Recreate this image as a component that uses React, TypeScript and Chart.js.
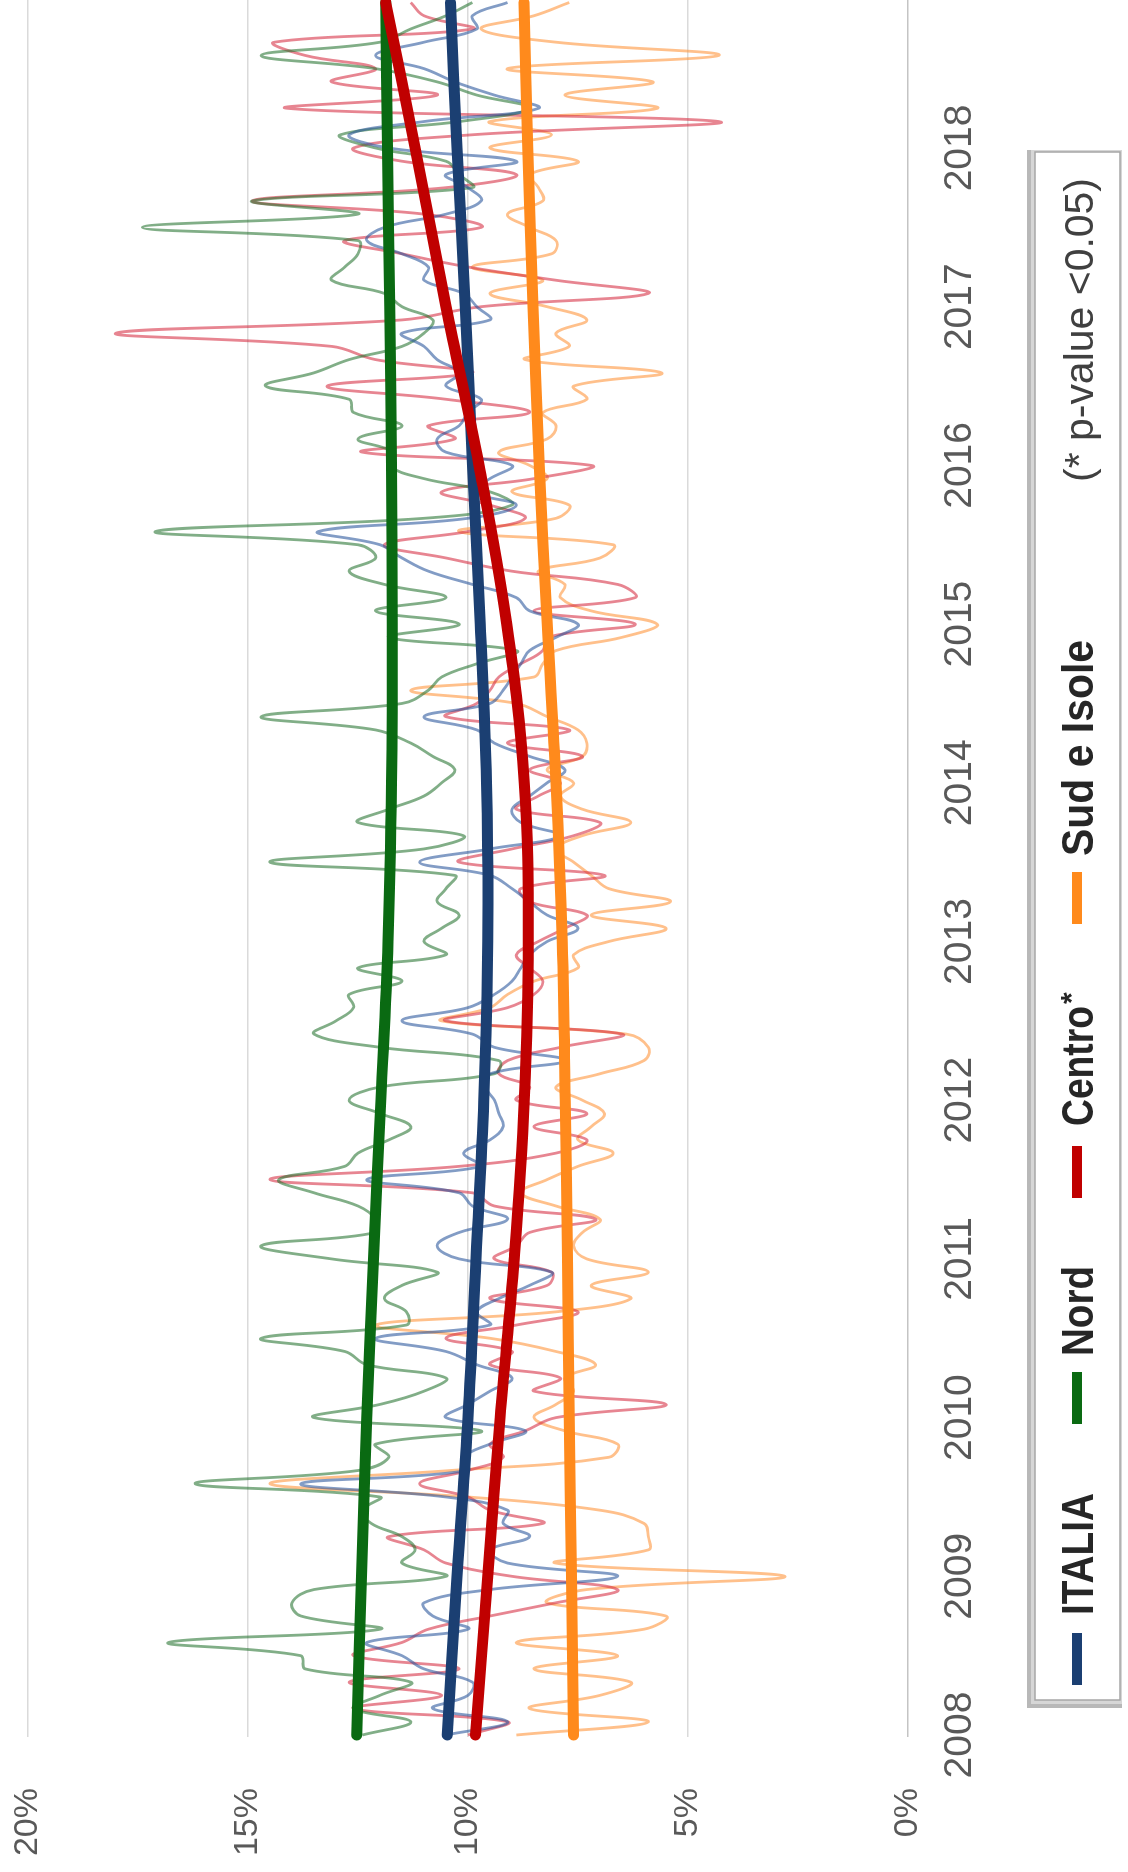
import React, { useEffect, useRef } from "react";
import { Chart, registerables } from "chart.js";

Chart.register(...registerables);

// ---------- DATA ----------
const YEAR_LABELS = ["2008", "2009", "2010", "2011", "2012", "2013", "2014", "2015", "2016", "2017", "2018"];
const Y_TICKS = [0, 5, 10, 15, 20];

// monthly values, Jan 2008 .. Dec 2018 (percent)
const ITALIA = [
  10.5, 9.1, 10.8, 10.0, 9.9, 11.0, 11.5, 12.3, 10.0, 10.8, 11.0, 9.5, 6.6, 9.1, 9.5, 8.6, 9.2, 9.1, 10.5, 13.8, 10.0, 10.1,
  9.5, 8.7, 10.5, 10.0, 9.5, 9.0, 9.8, 10.5, 12.1, 9.5, 9.8, 9.3, 8.6, 8.1, 10.2, 10.7, 10.2, 9.1, 9.9, 10.2, 12.3, 9.7,
  10.1, 9.5, 9.2, 9.3, 9.4, 9.6, 9.5, 7.8, 9.4, 9.9, 11.5, 10.0, 9.4, 9.0, 8.8, 8.6, 8.2, 7.5, 8.2, 8.6, 9.0, 9.5,
  11.1, 9.5, 7.9, 8.8, 9.0, 8.6, 8.2, 7.8, 8.6, 9.4, 9.8, 11.0, 9.5, 9.2, 9.0, 8.8, 8.6, 8.0, 7.5, 8.6, 8.9,
  9.9, 10.9, 11.5, 12.0, 13.4, 10.0, 8.9, 9.9, 9.5, 9.0, 10.5, 10.7, 10.2, 10.0, 9.7, 10.5, 10.2, 10.7, 11.0, 11.5, 9.5, 9.8, 10.1,
  11.0, 10.9, 11.5, 12.3, 11.9, 10.5, 9.7, 10.0, 10.5, 8.9, 11.8, 12.7, 11.0, 8.4, 9.4, 10.3, 11.0, 12.1, 11.0, 9.8, 9.9, 9.1,
];
const NORD = [
  12.4, 11.3, 12.6, 12.0, 11.3, 13.7, 13.8, 16.8, 12.0, 13.8, 14.0, 13.5, 10.5, 11.5, 11.2, 11.5, 12.2, 12.4, 12.0, 16.2, 12.5, 11.8,
  12.1, 9.7, 13.5, 12.0, 11.0, 10.5, 12.3, 12.8, 14.7, 11.4, 11.4, 11.9, 11.5, 10.7, 13.1, 14.7, 12.1, 12.1, 12.5, 13.5, 14.3, 12.8,
  12.5, 11.8, 11.3, 12.0, 12.7, 12.0, 9.4, 9.3, 12.0, 13.5, 13.0, 12.6, 12.7, 11.5, 12.5, 10.5, 11.0, 10.6, 10.2, 10.7, 10.5, 10.3,
  14.5, 11.0, 10.1, 12.5, 11.8, 11.0, 10.6, 10.3, 10.8, 11.3, 12.1, 14.7, 11.5, 10.9, 10.6, 9.8, 8.9, 11.8, 10.2, 12.1, 10.5,
  11.9, 12.7, 12.1, 12.5, 17.1, 11.0, 9.0, 9.5, 11.0, 11.8, 11.7, 12.5, 11.5, 12.6, 12.7, 14.6, 13.5, 12.7, 11.5, 11.0, 10.8, 11.5, 11.9,
  13.1, 12.8, 12.5, 12.5, 17.4, 12.5, 14.9, 9.9, 10.2, 10.5, 12.1, 12.9, 10.2, 8.6, 9.8, 10.7, 12.1, 14.7, 12.0, 11.3, 10.5, 9.9,
];
const CENTRO = [
  10.0, 9.1, 12.6, 10.6, 12.7, 10.2, 12.6, 11.5, 10.9, 9.5, 8.0, 6.6, 9.0, 10.5, 11.0, 11.8, 8.3, 9.5, 10.0, 11.1, 10.0, 9.2,
  9.5, 8.7, 8.0, 5.5, 8.5, 7.9, 9.5, 9.0, 10.5, 8.9, 7.5, 9.5, 8.2, 8.1, 9.4, 8.9, 8.6, 7.1, 9.4, 9.9, 14.5, 10.2,
  8.0, 7.3, 8.5, 7.3, 8.9, 8.6, 9.3, 9.1, 7.9, 6.5, 10.5, 9.1, 8.5, 8.3, 8.6, 8.9, 8.4, 7.8, 7.3, 8.6, 8.8, 6.9,
  10.2, 9.0, 7.6, 7.0, 8.9, 8.4, 7.9, 8.6, 7.4, 9.1, 7.7, 10.5, 9.8, 9.5, 9.3, 8.8, 8.3, 8.2, 6.2, 8.5, 6.2, 6.6,
  9.0, 10.5, 11.9, 10.0, 8.7, 9.5, 10.6, 8.5, 7.2, 12.4, 10.3, 10.9, 8.6, 10.5, 13.2, 9.9, 12.1, 13.1, 18.0, 11.5, 9.7, 5.9,
  8.0, 10.0, 11.5, 12.8, 9.7, 11.0, 14.9, 10.5, 8.9, 11.5, 12.6, 9.9, 4.3, 14.1, 10.7, 13.1, 12.1, 13.7, 14.4, 9.9, 11.0, 11.3,
];
const SUD = [
  8.9, 5.9, 8.6, 7.0, 6.3, 8.5, 6.6, 8.9, 6.0, 5.5, 8.2, 7.3, 2.8, 8.0, 5.9, 5.9, 6.0, 7.0, 10.0, 14.5, 10.4, 6.8,
  6.6, 7.8, 8.5, 8.0, 7.6, 7.8, 7.1, 8.0, 9.5, 12.1, 8.0, 6.3, 7.2, 5.9, 7.3, 7.6, 7.4, 7.0, 8.0, 8.8, 8.2, 7.5,
  6.7, 7.5, 7.2, 6.9, 7.4, 8.0, 7.0, 6.0, 5.9, 6.4, 10.6, 9.5, 9.1, 8.5, 7.5, 7.6, 6.8, 5.5, 7.2, 5.4, 6.8, 7.2,
  7.6, 8.0, 7.4, 6.3, 7.4, 7.9, 7.6, 8.2, 7.4, 7.3, 7.5, 8.2, 8.9, 11.3, 8.5, 8.3, 8.0, 6.5, 5.7, 7.2, 7.9,
  7.8, 8.4, 7.0, 6.7, 10.2, 8.0, 7.7, 9.0, 8.2, 8.6, 9.3, 8.2, 8.0, 8.3, 7.3, 7.6, 5.6, 8.7, 7.7, 8.0, 7.3, 8.2, 9.5,
  8.3, 9.9, 8.1, 8.0, 8.6, 9.1, 8.3, 8.4, 8.6, 7.5, 9.5, 8.1, 9.5, 5.7, 7.8, 5.8, 9.1, 4.3, 8.0, 9.7, 8.5, 7.7,
];

// trend lines (month index -> percent)
const TREND_MONTHS = [0, 12, 24, 36, 48, 60, 72, 84, 96, 108, 120, 131];
const TREND_ITALIA = [10.47, 10.25, 10.0, 9.82, 9.64, 9.55, 9.58, 9.72, 9.9, 10.06, 10.25, 10.4];
const TREND_NORD = [12.53, 12.42, 12.3, 12.15, 11.98, 11.82, 11.74, 11.72, 11.74, 11.78, 11.83, 11.87];
const TREND_CENTRO = [9.83, 9.55, 9.27, 8.95, 8.72, 8.63, 8.72, 9.12, 9.75, 10.5, 11.2, 11.87];
const TREND_SUD = [7.6, 7.65, 7.7, 7.74, 7.79, 7.86, 8.0, 8.2, 8.38, 8.52, 8.64, 8.73];

const LEGEND_LABELS = ["ITALIA", "Nord", "Centro", "Sud e Isole"];
const LEGEND_STARS = ["", "", "*", ""];
const NOTE = "(* p-value <0.05)";

// ---------- STYLE ----------
const THICK_COLORS = ["#1b3f72", "#0a6a12", "#c00000", "#ff8a1c"];
const THIN_COLORS = [
  "rgba(40, 84, 155, 0.58)",
  "rgba(38, 115, 48, 0.58)",
  "rgba(214, 45, 66, 0.58)",
  "rgba(255, 150, 62, 0.6)",
];
const FONT = "'Liberation Sans', Arial, sans-serif";
const NARROW = "'Liberation Sans Narrow', 'Liberation Sans', Arial, sans-serif";

const toPoints = (vals: number[]) => vals.map((v, i) => ({ x: i, y: v }));
const toTrend = (vals: number[]) => vals.map((v, k) => ({ x: TREND_MONTHS[k], y: v }));

const legendPlugin = {
  id: "boxLegend",
  afterDraw(chart: any) {
    const ctx = chart.ctx as CanvasRenderingContext2D;
    ctx.save();
    const L = 164, R = 1722, T = 1027, B = 1122;
    ctx.fillStyle = "#b8b8b8";
    ctx.fillRect(L, T, R - L, B - T);
    ctx.fillStyle = "#d6d6d6";
    ctx.fillRect(L + 4, T + 4, R - L - 4, B - T - 4);
    ctx.fillStyle = "#ffffff";
    ctx.fillRect(L + 8, T + 8, R - L - 10, B - T - 10);
    ctx.strokeStyle = "#a6a6a6";
    ctx.lineWidth = 1.5;
    ctx.strokeRect(L + 8, T + 8, R - L - 10, B - T - 10);

    const markers = [187, 448, 674, 948];
    const textLeft = [257, 516, 746, 1016];
    const textWidth = [122, 90, 120, 216];
    const baseline = 1093;
    const fitText = (txt: string, left: number, width: number, font: string, color: string, y: number) => {
      ctx.font = font;
      ctx.fillStyle = color;
      ctx.textAlign = "left";
      ctx.textBaseline = "alphabetic";
      const w = ctx.measureText(txt).width;
      ctx.save();
      ctx.translate(left, y);
      ctx.scale(width / w, 1);
      ctx.fillText(txt, 0, 0);
      ctx.restore();
    };
    LEGEND_LABELS.forEach((lab, k) => {
      ctx.fillStyle = THICK_COLORS[k];
      ctx.fillRect(markers[k], 1072, 52, 10);
      fitText(lab, textLeft[k], textWidth[k], `bold 44px ${NARROW}`, "#262626", baseline);
      if (LEGEND_STARS[k]) {
        ctx.font = `bold 30px ${NARROW}`;
        ctx.fillStyle = "#262626";
        ctx.textAlign = "left";
        ctx.fillText(LEGEND_STARS[k], textLeft[k] + textWidth[k] + 2, baseline - 12);
      }
    });
    fitText(NOTE, 1390, 304, `40px ${NARROW}`, "#404040", baseline);
    ctx.restore();
  },
};

export default function App() {
  const ref = useRef<HTMLCanvasElement | null>(null);

  useEffect(() => {
    if (!ref.current) return;
    const thin = [ITALIA, NORD, CENTRO, SUD];
    const trends = [TREND_ITALIA, TREND_NORD, TREND_CENTRO, TREND_SUD];
    const thickOrder = [1, 2, 0, 3];
    const datasets: any[] = [];
    trends.forEach((t, k) => {
      datasets.push({
        label: LEGEND_LABELS[k] + " trend",
        data: toTrend(t),
        borderColor: THICK_COLORS[k],
        borderWidth: 11,
        borderCapStyle: "round",
        tension: 0.4,
        pointRadius: 0,
        fill: false,
        clip: false,
        order: thickOrder[k],
      });
    });
    thin.forEach((vals, k) => {
      datasets.push({
        label: LEGEND_LABELS[k],
        data: toPoints(vals),
        borderColor: THIN_COLORS[k],
        borderWidth: 2.8,
        tension: 0.4,
        pointRadius: 0,
        fill: false,
        order: 10 + k,
      });
    });

    const chart = new Chart(ref.current, {
      type: "line",
      data: { datasets },
      options: {
        responsive: false,
        animation: false,
        devicePixelRatio: 1,
        layout: { padding: { top: 28, left: 0, right: 0, bottom: 0 } },
        plugins: { legend: { display: false }, tooltip: { enabled: false } },
        scales: {
          x: {
            type: "linear",
            min: -0.15,
            max: 131.19,
            grid: { display: false, drawTicks: false },
            border: { display: false },
            afterBuildTicks: (s: any) => {
              s.ticks = YEAR_LABELS.map((_, k) => ({ value: k * 12 }));
            },
            afterFit: (s: any) => {
              s.height = 220;
              s.paddingLeft = 0;
              s.paddingRight = 0;
            },
            ticks: {
              autoSkip: false,
              maxRotation: 0,
              minRotation: 0,
              padding: 29,
              color: "#595959",
              font: { family: FONT, size: 39 },
              callback: (v: any) => YEAR_LABELS[Math.round(Number(v) / 12)] ?? "",
            },
          },
          y: {
            min: 0,
            max: 20,
            afterBuildTicks: (s: any) => {
              s.ticks = Y_TICKS.map((v) => ({ value: v }));
            },
            afterFit: (s: any) => {
              s.width = 135;
              s.paddingTop = 0;
              s.paddingBottom = 0;
            },
            grid: {
              drawTicks: false,
              lineWidth: 1.5,
              color: (c: any) => (c.tick && c.tick.value === 0 ? "#c4c4c4" : "#dadada"),
            },
            border: { display: false },
            ticks: {
              padding: 51,
              color: "#595959",
              font: { family: FONT, size: 34 },
              callback: (v: any) => `${v}%`,
            },
          },
        },
      },
      plugins: [legendPlugin],
    } as any);
    return () => chart.destroy();
  }, []);

  return (
    <div
      style={{
        position: "fixed",
        left: 0,
        top: 0,
        width: 1872,
        height: 1128,
        transformOrigin: "0 0",
        transform: "translate(0px, 1872px) rotate(-90deg)",
        background: "#ffffff",
      }}
    >
      <canvas ref={ref} width={1872} height={1128} style={{ display: "block", width: 1872, height: 1128 }} />
    </div>
  );
}
